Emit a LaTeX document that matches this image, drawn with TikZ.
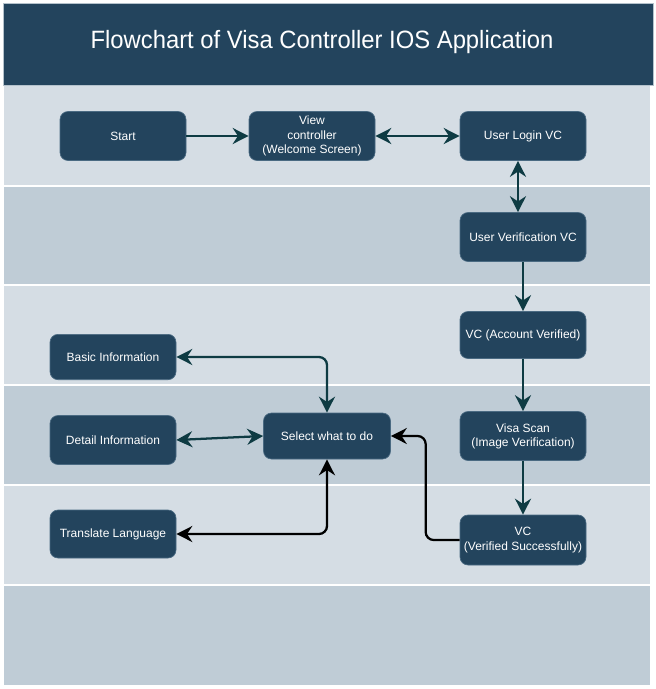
\documentclass[tikz,border=0pt]{standalone}
\usepackage{fontspec}
\setmainfont{Liberation Sans}
\usetikzlibrary{arrows.meta}
\definecolor{navy}{HTML}{23445D}
\definecolor{navyedge}{HTML}{4A6A82}
\definecolor{bandlight}{HTML}{D5DDE4}
\definecolor{banddark}{HTML}{BFCCD6}
\definecolor{teal}{HTML}{0E3B43}
\definecolor{frame}{HTML}{B4C2CC}
\begin{document}
\begin{tikzpicture}[x=0.75pt,y=-0.75pt,
  box/.style={draw=navyedge, line width=0.5pt, fill=navy, text=white, rounded corners=6pt,
    minimum width=94.5pt, minimum height=36.75pt, inner sep=0pt, align=center,
    font=\fontsize{9}{10.6}\selectfont},
  tealline/.style={draw=teal, line width=1.7pt},
  blackline/.style={draw=black, line width=1.7pt},
  tip/.style={arrows={-Stealth[length=12pt,width=12pt,inset=4pt]}},
  bitip/.style={arrows={Stealth[length=12pt,width=12pt,inset=4pt]-Stealth[length=12pt,width=12pt,inset=4pt]}}]
\useasboundingbox (0,0) rectangle (656,689);
\fill[white] (0,0) rectangle (656,689);
% bands
\fill[bandlight] (4,86) rectangle (650,185);
\fill[banddark] (4,187) rectangle (650,284);
\fill[bandlight] (4,286) rectangle (650,384);
\fill[banddark] (4,386) rectangle (650,484);
\fill[bandlight] (4,486) rectangle (650,584);
\fill[banddark] (4,586) rectangle (650,685);
% title
\fill[navy, draw=frame, line width=0.75pt] (3,3) rectangle (653,85);
\node[text=white, font=\fontsize{18.8}{22}\selectfont, xscale=0.95] (title) at (322,42) {Flowchart of Visa Controller IOS Application};
% nodes
\node[box] (start) at (123,136) {Start};
\node[box] (view) at (312,136) {View\\controller\\(Welcome Screen)};
\node[box] (login) at (523,136) {User Login VC};
\node[box] (verif) at (523,237) {User Verification VC};
\node[box, minimum height=35.25pt] (acct) at (523,335) {VC (Account Verified)};
\node[box] (scan) at (523,436) {Visa Scan\\(Image Verification)};
\node[box, minimum height=37.5pt] (vcs) at (523,540) {VC\\(Verified Successfully)};
\node[box, minimum width=95.25pt, minimum height=34.5pt] (select) at (327,436) {Select what to do};
\node[box, minimum height=34pt] (basic) at (113,357) {Basic Information};
\node[box] (detail) at (113,440) {Detail Information};
\node[box, minimum height=36pt] (transl) at (113,534) {Translate Language};
% connectors
\draw[tealline, tip] (start) -- (view);
\draw[tealline, bitip] (view) -- (login);
\draw[tealline, bitip] ([xshift=-3.75pt]login.south) -- ([xshift=-3.75pt]verif.north);
\draw[tealline, tip] (verif) -- (acct);
\draw[tealline, tip] (acct) -- (scan);
\draw[tealline, tip] (scan) -- (vcs);
\draw[tealline, bitip, rounded corners=6pt] (select.north) |- (basic.east);
\draw[tealline, bitip] (detail.east) -- (select.west);
\draw[blackline, bitip, rounded corners=6pt] (select.south) |- (transl.east);
\draw[blackline, tip, rounded corners=6pt] (vcs.west) -- ++(-34,0) |- (select.east);
\end{tikzpicture}
\end{document}
